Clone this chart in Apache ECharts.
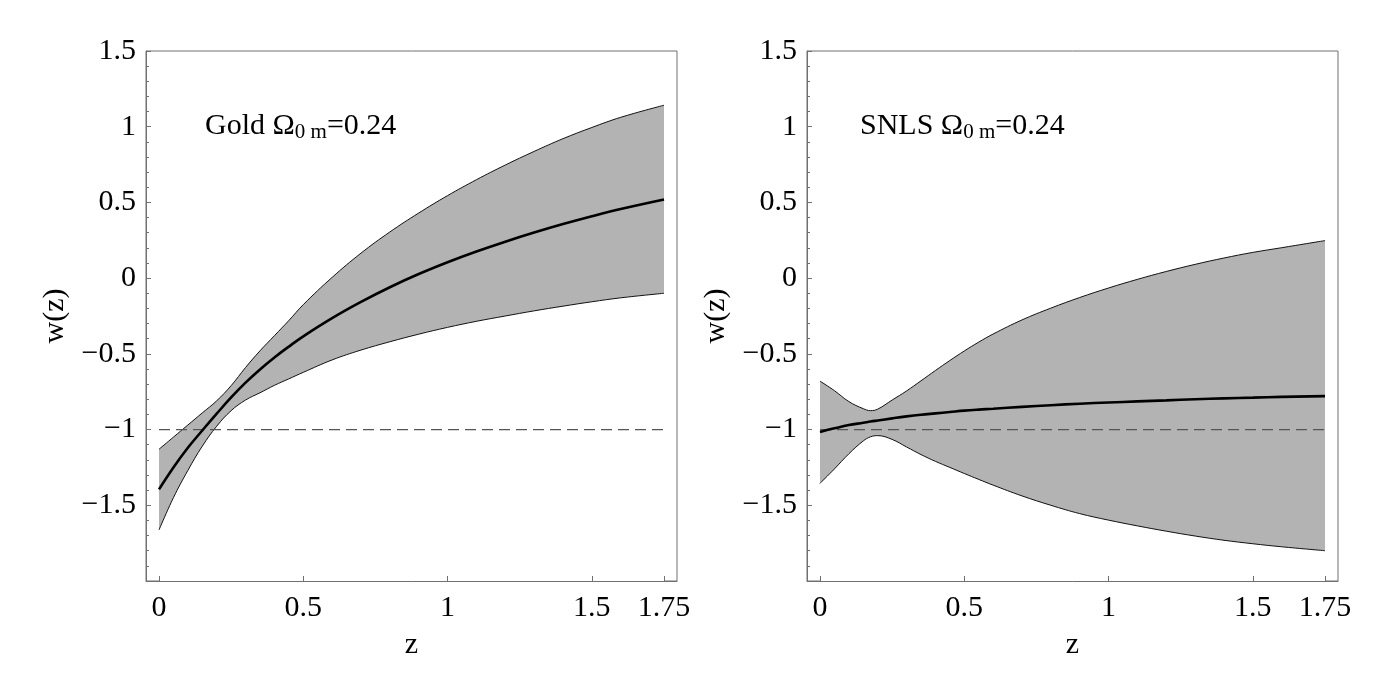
<!DOCTYPE html>
<html>
<head>
<meta charset="utf-8">
<script src="https://cdn.jsdelivr.net/npm/echarts@6/dist/echarts.min.js"></script>
<style>
  html, body { margin: 0; padding: 0; background: #fff; }
  #chart { width: 1389px; height: 695px; }
</style>
</head>
<body>
<div id="chart"></div>
<script>
// ---- Data ----
const xTicks = [0, 0.5, 1, 1.5, 1.75];
const dashZ = [0, 1.75];
const dashW = [-1, -1];

// Gold sample, Omega_0m = 0.24
const zGold = [0, 0.05, 0.1, 0.15, 0.2, 0.25, 0.3, 0.35, 0.4, 0.45, 0.5, 0.6, 0.7, 0.8, 0.9, 1.0, 1.1, 1.2, 1.3, 1.4, 1.5, 1.6, 1.75];
const cGold = [-1.395, -1.25, -1.12, -1.006, -0.895, -0.788, -0.69, -0.603, -0.524, -0.452, -0.384, -0.264, -0.157, -0.06, 0.027, 0.105, 0.176, 0.241, 0.301, 0.357, 0.409, 0.457, 0.52];
const uGold = [-1.13, -1.05, -0.97, -0.89, -0.81, -0.71, -0.59, -0.48, -0.38, -0.28, -0.175, 0.005, 0.165, 0.305, 0.43, 0.545, 0.65, 0.747, 0.837, 0.921, 0.995, 1.062, 1.142];
const lGold = [-1.663, -1.45, -1.27, -1.11, -0.978, -0.875, -0.805, -0.757, -0.708, -0.665, -0.622, -0.54, -0.475, -0.42, -0.37, -0.325, -0.285, -0.25, -0.216, -0.185, -0.156, -0.13, -0.10];

// SNLS sample, Omega_0m = 0.24
const zSnls = [0, 0.05, 0.1, 0.15, 0.175, 0.2, 0.25, 0.3, 0.35, 0.4, 0.45, 0.5, 0.55, 0.6, 0.7, 0.8, 0.9, 1.0, 1.1, 1.2, 1.3, 1.4, 1.5, 1.6, 1.75];
const cSnls = [-1.016, -0.992, -0.97, -0.955, -0.947, -0.94, -0.926, -0.913, -0.902, -0.893, -0.884, -0.875, -0.868, -0.862, -0.85, -0.839, -0.829, -0.821, -0.814, -0.807, -0.80, -0.794, -0.789, -0.784, -0.779];
const uSnls = [-0.68, -0.743, -0.815, -0.862, -0.875, -0.865, -0.805, -0.745, -0.678, -0.61, -0.544, -0.481, -0.4225, -0.369, -0.276, -0.198, -0.128, -0.065, -0.008, 0.044, 0.091, 0.133, 0.17, 0.201, 0.248];
const lSnls = [-1.355, -1.26, -1.16, -1.075, -1.048, -1.04, -1.065, -1.115, -1.165, -1.21, -1.25, -1.29, -1.329, -1.367, -1.438, -1.50, -1.555, -1.598, -1.636, -1.671, -1.703, -1.731, -1.754, -1.774, -1.80];

// ---- Helpers ----
const zip = (xs, ys) => xs.map((x, i) => [x, ys[i]]);

const SERIF = 'Liberation Serif, Times New Roman, serif';
const AX = '#707070';

function makeX(idx) {
  return {
    type: 'value', gridIndex: idx, min: -0.045, max: 1.795, z: 10,
    name: 'z', nameLocation: 'middle', nameGap: 49,
    nameTextStyle: { fontFamily: SERIF, fontSize: 30, color: '#000' },
    axisLine: { show: true, onZero: false, lineStyle: { color: AX, width: 1 } },
    axisTick: { show: true, inside: true, length: 5, customValues: xTicks, lineStyle: { color: AX } },
    axisLabel: { customValues: xTicks, margin: 12, fontFamily: SERIF, fontSize: 30, color: '#000',
      formatter: v => String(v) },
    splitLine: { show: false }
  };
}
function makeY(idx) {
  return {
    type: 'value', gridIndex: idx, min: -2, max: 1.5, interval: 0.5, z: 10,
    name: 'w(z)', nameLocation: 'middle', nameGap: 76,
    nameTextStyle: { fontFamily: SERIF, fontSize: 30, color: '#000' },
    axisLine: { show: true, onZero: false, lineStyle: { color: AX, width: 1 } },
    axisTick: { show: true, inside: true, length: 5, lineStyle: { color: AX } },
    minorTick: { show: true, splitNumber: 5, length: 3, lineStyle: { color: AX } },
    axisLabel: { margin: 10, fontFamily: SERIF, fontSize: 30, color: '#000',
      formatter: v => (Math.abs(v + 2) < 1e-9 ? '' : String(+v.toFixed(2)).replace('-', '\u2212')) },
    splitLine: { show: false }
  };
}
function panelSeries(idx, z, c, u, l) {
  return [
    // upper bound: gray area down to the bottom of the plot
    { type: 'line', xAxisIndex: idx, yAxisIndex: idx, data: zip(z, u),
      symbol: 'none', smooth: 0.4, z: 2, lineStyle: { color: '#111', width: 1 },
      areaStyle: { color: '#b3b3b3', opacity: 1, origin: 'start' } },
    // lower bound: white area hides the part below the band
    { type: 'line', xAxisIndex: idx, yAxisIndex: idx, data: zip(z, l),
      symbol: 'none', smooth: 0.4, z: 3, lineStyle: { color: '#111', width: 1 },
      areaStyle: { color: '#ffffff', opacity: 1, origin: 'start' } },
    { type: 'line', xAxisIndex: idx, yAxisIndex: idx, data: zip(dashZ, dashW),
      symbol: 'none', z: 4, lineStyle: { color: '#555', width: 1.2, type: [11, 6] } },
    { type: 'line', xAxisIndex: idx, yAxisIndex: idx, data: zip(z, c),
      symbol: 'none', smooth: 0.4, z: 5, lineStyle: { color: '#000', width: 2.6 } }
  ];
}

const richStyle = {
  m: { fontFamily: SERIF, fontSize: 30, fontWeight: 'normal', color: '#000', lineHeight: 34 },
  s: { fontFamily: SERIF, fontSize: 21, fontWeight: 'normal', color: '#000', lineHeight: 20, verticalAlign: 'bottom' }
};

const chart = echarts.init(document.getElementById('chart'), null, { renderer: 'canvas' });
chart.setOption({
  animation: false,
  backgroundColor: '#fff',
  title: [
    { text: '{m|Gold Ω}{s|0 m}{m|=0.24}', left: 205, top: 109, padding: 0,
      textStyle: { fontWeight: 'normal', rich: richStyle } },
    { text: '{m|SNLS Ω}{s|0 m}{m|=0.24}', left: 860, top: 109, padding: 0,
      textStyle: { fontWeight: 'normal', rich: richStyle } }
  ],
  grid: [
    { left: 146, top: 51, width: 531, height: 530, show: true, borderColor: AX, borderWidth: 1, backgroundColor: 'transparent' },
    { left: 807, top: 51, width: 531, height: 530, show: true, borderColor: AX, borderWidth: 1, backgroundColor: 'transparent' }
  ],
  xAxis: [makeX(0), makeX(1)],
  yAxis: [makeY(0), makeY(1)],
  series: [
    ...panelSeries(0, zGold, cGold, uGold, lGold),
    ...panelSeries(1, zSnls, cSnls, uSnls, lSnls)
  ]
});
</script>
</body>
</html>
